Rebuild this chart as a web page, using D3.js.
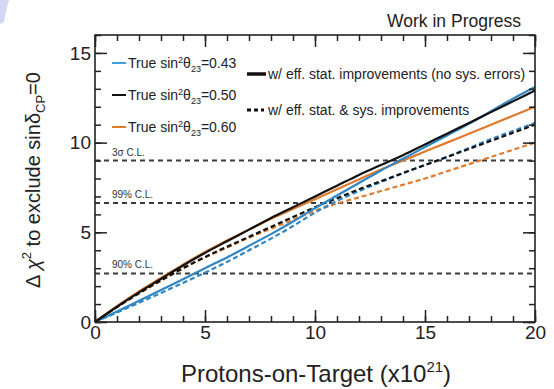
<!DOCTYPE html>
<html>
<head>
<meta charset="utf-8">
<script src="https://cdn.jsdelivr.net/npm/d3@7/dist/d3.min.js"></script>
<style>
  html, body { margin: 0; padding: 0; background: #fff; }
  svg { display: block; font-family: "Liberation Sans", Arial, sans-serif; }
</style>
</head>
<body>
<svg id="chart" width="554" height="389"></svg>
<script>
// Protons-on-target (x10^21)
const pot = [0,1,2,3,4,5,6,7,8,9,10,11,12,13,14,15,16,17,18,19,20];

// Delta chi^2 with efficient statistical improvements only (no systematics)
const stat043 = [0,0.58,1.18,1.78,2.38,3.0,3.6,4.25,4.9,5.6,6.35,7.05,7.75,8.45,9.1,9.75,10.4,11.05,11.75,12.45,13.1];
const stat050 = [0,0.85,1.65,2.4,3.15,3.85,4.5,5.15,5.8,6.4,7.0,7.6,8.2,8.75,9.3,9.9,10.5,11.1,11.7,12.3,12.9];
const stat060 = [0,0.88,1.7,2.45,3.2,3.9,4.55,5.15,5.75,6.3,6.85,7.4,7.95,8.5,9.0,9.5,10.0,10.5,11.0,11.5,12.0];

// Delta chi^2 with efficient statistical and systematic improvements
const sys043 = [0,0.53,1.07,1.62,2.18,2.75,3.35,4.0,4.65,5.35,6.1,6.75,7.3,7.8,8.3,8.75,9.2,9.7,10.2,10.65,11.1];
const sys050 = [0,0.83,1.6,2.32,3.0,3.62,4.2,4.75,5.3,5.85,6.4,6.9,7.4,7.85,8.3,8.75,9.2,9.65,10.1,10.55,11.0];
const sys060 = [0,0.83,1.6,2.3,2.98,3.6,4.15,4.7,5.2,5.7,6.2,6.6,6.95,7.3,7.65,8.0,8.4,8.8,9.2,9.6,10.0];

const seriesNames = ["0.43", "0.50", "0.60"];
const seriesColors = ["#2f86c4", "#111111", "#e07a2c"];
const legendColors = ["#3ea0dc", "#111111", "#e07a2c"];

// Confidence-level thresholds
const clLabels = ["3σ C.L.", "99% C.L.", "90% C.L."];
const clValues = [9.0, 6.63, 2.71];

const xMajor = [0, 5, 10, 15, 20];
const yMajor = [0, 5, 10, 15];

const svg = d3.select("#chart");
const L = 95, R = 535, T = 35, B = 322;

const x = d3.scaleLinear().domain([0, 20]).range([L, R]);
const y = d3.scaleLinear().domain([0, 16]).range([B, T]);

// faint corner mark
svg.append("path")
  .attr("d", "M0,0 H9 Q6,10 4,22 L0,24 Z")
  .attr("fill", "#c9cdf0").attr("opacity", 0.8);

// Work in Progress
svg.append("text")
  .attr("x", 521).attr("y", 27)
  .attr("text-anchor", "end")
  .attr("font-size", 17.5).attr("fill", "#222")
  .text("Work in Progress");

// confidence-level lines
const clg = svg.append("g");
clValues.forEach((v, i) => {
  clg.append("line")
    .attr("x1", L).attr("x2", R)
    .attr("y1", y(v)).attr("y2", y(v))
    .attr("stroke", "#3a3a3a").attr("stroke-width", 2)
    .attr("stroke-dasharray", "5,4");
  clg.append("text")
    .attr("x", 112).attr("y", y(v) - 5)
    .attr("font-size", 10).attr("fill", "#333")
    .text(clLabels[i]);
});

// curves
const line = d3.line()
  .x((d, i) => x(pot[i]))
  .y(d => y(d))
  .curve(d3.curveMonotoneX);

const plot = svg.append("g");
const sysSets = [sys043, sys050, sys060];
const statSets = [stat043, stat050, stat060];
[2, 0, 1].forEach(k => {
  plot.append("path").datum(sysSets[k])
    .attr("d", line).attr("fill", "none")
    .attr("stroke", seriesColors[k]).attr("stroke-width", 2.2)
    .attr("stroke-dasharray", "5,3");
});
[2, 0, 1].forEach(k => {
  plot.append("path").datum(statSets[k])
    .attr("d", line).attr("fill", "none")
    .attr("stroke", seriesColors[k]).attr("stroke-width", 2.2);
});

// frame
svg.append("rect")
  .attr("x", L).attr("y", T).attr("width", R - L).attr("height", B - T)
  .attr("fill", "none").attr("stroke", "#222").attr("stroke-width", 1.6);

// axes with inward ticks on all four sides
function styleAxis(g) {
  g.select(".domain").remove();
  g.selectAll(".tick line").attr("stroke", "#222").attr("stroke-width", 1.5);
  g.selectAll(".tick text").attr("fill", "#222")
    .attr("font-family", "'Liberation Sans', Arial, sans-serif").attr("font-size", 19);
}
const xMinor = d3.range(0, 21, 1);
const yMinor = d3.range(0, 17, 1);

svg.append("g").attr("transform", `translate(0,${B})`)
  .call(d3.axisBottom(x).tickValues(xMinor).tickSize(-6).tickFormat(""))
  .call(styleAxis);
svg.append("g").attr("transform", `translate(0,${B})`)
  .call(d3.axisBottom(x).tickValues(xMajor).tickSize(-12).tickPadding(3).tickFormat(d3.format("d")))
  .call(styleAxis);
svg.append("g").attr("transform", `translate(0,${T})`)
  .call(d3.axisTop(x).tickValues(xMinor).tickSize(-6).tickFormat(""))
  .call(styleAxis);
svg.append("g").attr("transform", `translate(0,${T})`)
  .call(d3.axisTop(x).tickValues(xMajor).tickSize(-12).tickFormat(""))
  .call(styleAxis);

svg.append("g").attr("transform", `translate(${L},0)`)
  .call(d3.axisLeft(y).tickValues(yMinor).tickSize(-6).tickFormat(""))
  .call(styleAxis);
svg.append("g").attr("transform", `translate(${L},0)`)
  .call(d3.axisLeft(y).tickValues(yMajor).tickSize(-12).tickPadding(4).tickFormat(d3.format("d")))
  .call(styleAxis);
svg.append("g").attr("transform", `translate(${R},0)`)
  .call(d3.axisRight(y).tickValues(yMinor).tickSize(-6).tickFormat(""))
  .call(styleAxis);
svg.append("g").attr("transform", `translate(${R},0)`)
  .call(d3.axisRight(y).tickValues(yMajor).tickSize(-12).tickFormat(""))
  .call(styleAxis);

// legend: true sin^2 theta23 values
const leg1 = svg.append("g");
seriesNames.forEach((n, i) => {
  const ly = 63 + i * 32;
  leg1.append("line")
    .attr("x1", 112).attr("x2", 126).attr("y1", ly).attr("y2", ly)
    .attr("stroke", legendColors[i]).attr("stroke-width", 2);
  const t = leg1.append("text").attr("x", 128).attr("y", ly + 5)
    .attr("font-size", 14).attr("fill", "#222");
  t.append("tspan").text("True sin");
  t.append("tspan").attr("font-size", 9).attr("dy", -5).text("2");
  t.append("tspan").attr("dy", 5).text("θ");
  t.append("tspan").attr("font-size", 9).attr("dy", 4).text("23");
  t.append("tspan").attr("dy", -4).text("=" + n);
});

// legend: improvement scenarios
const leg2 = svg.append("g");
leg2.append("line")
  .attr("x1", 247).attr("x2", 266).attr("y1", 74).attr("y2", 74)
  .attr("stroke", "#111").attr("stroke-width", 3.5);
leg2.append("text").attr("x", 268).attr("y", 79)
  .attr("font-size", 14).attr("fill", "#222")
  .text("w/ eff. stat. improvements (no sys. errors)");
leg2.append("line")
  .attr("x1", 247).attr("x2", 264).attr("y1", 110).attr("y2", 110)
  .attr("stroke", "#111").attr("stroke-width", 3).attr("stroke-dasharray", "4,3");
leg2.append("text").attr("x", 268).attr("y", 115)
  .attr("font-size", 14).attr("fill", "#222")
  .text("w/ eff. stat. & sys. improvements");

// x axis title
const xt = svg.append("text")
  .attr("x", 316).attr("y", 382).attr("text-anchor", "middle")
  .attr("font-size", 24).attr("fill", "#222");
xt.append("tspan").text("Protons-on-Target (x10");
xt.append("tspan").attr("font-size", 15).attr("dy", -10).text("21");
xt.append("tspan").attr("dy", 10).text(")");

// y axis title
const yt = svg.append("text")
  .attr("transform", "translate(40,180) rotate(-90)")
  .attr("text-anchor", "middle")
  .attr("font-size", 20).attr("fill", "#222");
yt.append("tspan").text("Δ ");
yt.append("tspan").attr("font-style", "italic").text("χ");
yt.append("tspan").attr("font-size", 13).attr("dy", -9).text("2");
yt.append("tspan").attr("dy", 9).text(" to exclude sinδ");
yt.append("tspan").attr("font-size", 13).attr("dy", 5).text("CP");
yt.append("tspan").attr("dy", -5).text("=0");
</script>
</body>
</html>
